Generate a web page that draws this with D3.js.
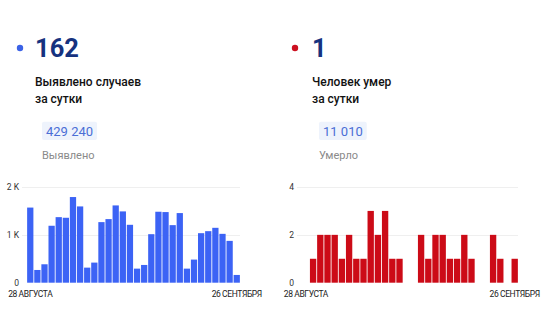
<!DOCTYPE html>
<html>
<head>
<meta charset="utf-8">
<script src="https://cdn.jsdelivr.net/npm/d3@7"></script>
<style>
  body { margin: 0; background: #fff; }
  svg { display: block; font-family: Roboto, "Noto Sans", sans-serif; }
</style>
</head>
<body>
<script>
const width = 547;
const height = 320;

// Daily values, 28 Aug .. 26 Sep
const days = d3.range(30);
const cases = [1570, 266, 385, 1190, 1370, 1357, 1790, 1594, 315, 420,
  1266, 1329, 1615, 1490, 1210, 294, 371, 1014, 1483, 1476,
  1203, 1455, 294, 483, 1035, 1077, 1147, 1021, 874, 162];
const deaths = [0, 1, 2, 2, 2, 1, 2, 1, 1, 3,
  2, 3, 1, 1, 0, 0, 2, 1, 2, 2,
  1, 1, 2, 1, 0, 0, 2, 1, 0, 1];
const dateLabels = ["28 АВГУСТА", "26 СЕНТЯБРЯ"];
const casesTicks = [0, 1000, 2000];
const deathsTicks = [0, 2, 4];

const panels = [
  {
    left: 0,
    dotX: 20,
    headline: "162",
    dot: "#3b62e6",
    title: ["Выявлено случаев", "за сутки"],
    total: "429 240",
    totalLabel: "Выявлено",
    values: cases,
    ticks: casesTicks,
    format: (d) => (d === 0 ? "0" : `${d / 1000} K`),
    bar: "#3c63f5",
    bars: [26.7, 240.3],
    grid: [22, 240],
  },
  {
    left: 277,
    dotX: 295,
    headline: "1",
    dot: "#cc1020",
    title: ["Человек умер", "за сутки"],
    total: "11 010",
    totalLabel: "Умерло",
    values: deaths,
    ticks: deathsTicks,
    format: (d) => `${d}`,
    bar: "#cc0b17",
    bars: [302.3, 518.3],
    grid: [297, 518],
  },
];

const svg = d3
  .select("body")
  .append("svg")
  .attr("width", width)
  .attr("height", height);

const y0 = 282.7;
const y1 = 187;

panels.forEach((p) => {
  const g = svg.append("g");
  const dx = p.left;

  // headline
  g.append("circle")
    .attr("cx", p.dotX)
    .attr("cy", 48)
    .attr("r", 3.2)
    .attr("fill", p.dot);

  g.append("text")
    .attr("x", dx + 35)
    .attr("y", 57)
    .attr("font-size", 25.5)
    .attr("font-weight", 700)
    .attr("fill", "#16327f")
    .text(p.headline);

  g.selectAll("text.title")
    .data(p.title)
    .join("text")
    .attr("class", "title")
    .attr("x", dx + 35)
    .attr("y", (d, i) => 85.5 + i * 17.8)
    .attr("font-size", 12)
    .attr("font-weight", 500)
    .attr("fill", "#111")
    .text((d) => d);

  const total = g
    .append("text")
    .attr("x", dx + 46)
    .attr("y", 136)
    .attr("font-size", 13)
    .attr("fill", "#4a6ed6")
    .text(p.total);
  const bb = total.node().getBBox();
  g.insert("rect", "text")
    .attr("x", bb.x - 4)
    .attr("y", 121.7)
    .attr("width", bb.width + 8)
    .attr("height", 18.3)
    .attr("rx", 2)
    .attr("fill", "#eef3fc");

  g.append("text")
    .attr("x", dx + 42)
    .attr("y", 159.3)
    .attr("font-size", 11)
    .attr("fill", "#8a8a8a")
    .text(p.totalLabel);

  // bar chart
  const x = d3.scaleBand().domain(days).range(p.bars).paddingInner(0.12).paddingOuter(0.06);
  const y = d3.scaleLinear().domain([0, d3.max(p.ticks)]).range([y0, y1]);

  g.append("g")
    .selectAll("line")
    .data(p.ticks.filter((d) => d > 0))
    .join("line")
    .attr("x1", p.grid[0])
    .attr("x2", p.grid[1])
    .attr("y1", (d) => Math.round(y(d)) + 0.5)
    .attr("y2", (d) => Math.round(y(d)) + 0.5)
    .attr("stroke", "#efefef");

  g.append("g")
    .selectAll("text")
    .data(p.ticks)
    .join("text")
    .attr("x", p.grid[0] - 3)
    .attr("y", (d) => y(d))
    .attr("dy", "0.35em")
    .attr("text-anchor", "end")
    .attr("font-size", 8.5)
    .attr("fill", "#333")
    .text(p.format);

  g.append("g")
    .selectAll("rect")
    .data(p.values.map((v, i) => [i, v]).filter(([, v]) => v > 0))
    .join("rect")
    .attr("x", ([i]) => x(i))
    .attr("y", ([, v]) => y(v))
    .attr("width", x.bandwidth())
    .attr("height", ([, v]) => y0 - y(v))
    .attr("fill", p.bar);

  g.append("g")
    .selectAll("text")
    .data([0, days.length - 1])
    .join("text")
    .attr("x", (d) => x(d) + x.bandwidth() / 2)
    .attr("y", 297.3)
    .attr("text-anchor", "middle")
    .attr("font-size", 8.5)
    .attr("letter-spacing", -0.4)
    .attr("fill", "#222")
    .text((d, i) => dateLabels[i]);
});
</script>
</body>
</html>
